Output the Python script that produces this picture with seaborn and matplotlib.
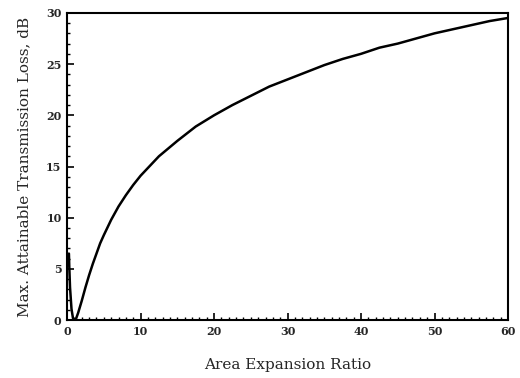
import matplotlib
matplotlib.use("Agg")
import matplotlib.pyplot as plt
from matplotlib.ticker import MultipleLocator
import seaborn as sns
import pandas as pd

area_ratio = [0.25, 0.3, 0.4, 0.6, 0.8, 1.0, 1.2, 1.5, 2, 2.5, 3, 3.5, 4, 4.5, 5, 6, 7, 8, 9, 10,
              12.5, 15, 17.5, 20, 22.5, 25, 27.5, 30, 32.5, 35, 37.5, 40, 42.5, 45, 47.5, 50,
              52.5, 55, 57.5, 60]
tl_max_db = [6.5, 5.2, 3.2, 1.1, 0.2, 0.0, 0.1, 0.7, 1.9, 3.2, 4.4, 5.5, 6.5, 7.5, 8.3, 9.8, 11.1, 12.2, 13.2, 14.1,
             16.0, 17.5, 18.9, 20.0, 21.0, 21.9, 22.8, 23.5, 24.2, 24.9, 25.5, 26.0, 26.6, 27.0, 27.5, 28.0,
             28.4, 28.8, 29.2, 29.5]
x_ticks = [0, 10, 20, 30, 40, 50, 60]
y_ticks = [0, 5, 10, 15, 20, 25, 30]

sns.set_theme(style="ticks")
plt.rcParams['font.family'] = ['DejaVu Serif']

df = pd.DataFrame({"Area Expansion Ratio": area_ratio, "TL": tl_max_db})

fig = plt.figure(figsize=(5.2, 3.78), dpi=100)
ax = fig.add_axes([0.129, 0.153, 0.848, 0.813])
sns.lineplot(data=df, x="Area Expansion Ratio", y="TL", ax=ax, color="black", linewidth=1.8)

ax.set_xlim(0, 60)
ax.set_ylim(0, 30)
ax.set_xticks(x_ticks)
ax.set_yticks(y_ticks)
ax.xaxis.set_minor_locator(MultipleLocator(1))
ax.yaxis.set_minor_locator(MultipleLocator(1))
ax.tick_params(axis="both", which="major", direction="in", length=5, width=1.2, labelsize=8, color="black", pad=4)
ax.tick_params(axis="both", which="minor", direction="in", length=2.5, width=1, color="black")
for s in ax.spines.values():
    s.set_visible(True)
    s.set_color("black")
    s.set_linewidth(1.5)

ax.set_xlabel("Area Expansion Ratio", fontsize=11, labelpad=15)
ax.set_ylabel("Max. Attainable Transmission Loss, dB", fontsize=11, labelpad=11)
for lab in ax.get_xticklabels() + ax.get_yticklabels():
    lab.set_fontweight("bold")

fig.savefig("out.png", dpi=100)
